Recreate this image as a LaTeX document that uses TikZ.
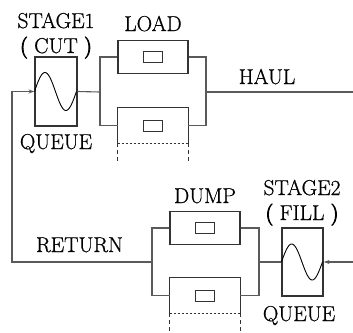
\documentclass[tikz,border=0pt]{standalone}
\usepackage{fontspec}
\newfontfamily\lblfont{Latin Modern Roman}[FakeBold=0.7]
\newfontfamily\parenfont{Latin Modern Roman}[FakeBold=4]
\usetikzlibrary{arrows.meta}
\definecolor{boxc}{HTML}{333333}
\definecolor{linec}{HTML}{5A5A5A}
\begin{document}
\begin{tikzpicture}[x=1pt,y=-1pt,
  lbl/.style={anchor=base,inner sep=0pt,font=\lblfont\fontsize{21.5}{24}\selectfont,text=black},
  stagebox/.style={draw=boxc,line width=1.1pt,minimum width=42pt,minimum height=69pt,inner sep=0pt},
  unitbox/.style={draw=boxc,line width=1.1pt,minimum width=70pt,minimum height=33pt,inner sep=0pt},
  openbox/.style={minimum width=70pt,minimum height=35pt,inner sep=0pt},
  innerbox/.style={draw=boxc,line width=1pt,minimum width=19pt,minimum height=11pt,inner sep=0pt},
  conn/.style={draw=linec,line width=1.1pt},
  wave/.style={draw=black,line width=0.9pt},
  densedash/.style={draw=boxc,line width=1.3pt,dash pattern=on 2.5pt off 1.5pt},
  sparsedash/.style={draw=boxc,line width=1pt,dash pattern=on 4pt off 3pt},
  arr/.style={conn,-{Stealth[length=6pt,width=4pt]}}]
\useasboundingbox (0,0) rectangle (353,332);

% stage boxes
\node[stagebox] (s1) at (56,91.5) {};
\node[stagebox,minimum width=41pt,minimum height=68pt] (s2) at (302.5,262) {};
\draw[wave,shift={(s1.west)}] plot[domain=0:1,samples=60,variable=\t] ({42*\t},{-19*sin(360*\t)});
\draw[wave,shift={(s2.west)}] plot[domain=0:1,samples=60,variable=\t] ({41*\t},{-18*sin(360*\t)});

% load boxes
\node[unitbox] (l1) at (153,57) {};
\node[innerbox] (l1i) at (l1.center) {};
\node[openbox] (l2) at (153,125.5) {};
\node[innerbox] (l2i) at (l2.center) {};
\draw[draw=boxc,line width=1.1pt] (l2.south west) -- (l2.north west) -- (l2.north east) -- (l2.south east);
\draw[densedash] (l2.south west) -- (l2.south east);
\coordinate (l2a) at ([yshift=-20pt]l2.south west);
\coordinate (l2b) at ([yshift=-20pt]l2.south east);
\draw[sparsedash] (l2.south west) -- (l2a);
\draw[sparsedash] (l2.south east) -- (l2b);

% dump boxes
\node[unitbox] (d1) at (205,228) {};
\node[innerbox] (d1i) at (d1.center) {};
\node[openbox] (d2) at (205,295.5) {};
\node[innerbox] (d2i) at (d2.center) {};
\draw[draw=boxc,line width=1.1pt] (d2.south west) -- (d2.north west) -- (d2.north east) -- (d2.south east);
\draw[densedash] (d2.south west) -- (d2.south east);
\coordinate (d2a) at ([yshift=-22pt]d2.south west);
\coordinate (d2b) at ([yshift=-22pt]d2.south east);
\draw[sparsedash] (d2.south west) -- (d2a);
\draw[sparsedash] (d2.south east) -- (d2b);

% junctions
\coordinate (jL) at (100,92);
\coordinate (jR) at (206,92);
\coordinate (haul) at (353,92);
\coordinate (jD) at (152,262);
\coordinate (jE) at (259,262);
\coordinate (inR) at (353,262);
\coordinate (rc) at (12,262);

% connectors
\draw[conn] (s1.east) -- (jL);
\draw[conn] (l1.west) -| (jL) |- (l2.west);
\draw[conn] (l1.east) -| (jR) |- (l2.east);
\draw[conn] (jR) -- (haul);
\draw[conn] (d1.west) -| (jD) |- (d2.west);
\draw[conn] (d1.east) -| (jE) |- (d2.east);
\draw[conn] (jE) -- (s2.west);
\draw[arr] (inR) -- (s2.east);
\draw[arr] (jD) -- (rc) |- (s1.west);

% labels
\node[lbl] (t1) at (56,28) {STAGE1};
\node[lbl] (t2) at (56,53) {{\parenfont(}\hspace{0.3em}CUT\hspace{0.3em}{\parenfont)}};
\node[lbl] (t3) at (56,149) {QUEUE};
\node[lbl] (t4) at (153,31) {LOAD};
\node[lbl] (t5) at (267,84) {HAUL};
\node[lbl] (t6) at (205,203) {DUMP};
\node[lbl] (t7) at (302,195) {STAGE2};
\node[lbl] (t8) at (302,220) {{\parenfont(}\hspace{0.3em}FILL\hspace{0.3em}{\parenfont)}};
\node[lbl] (t9) at (299,321) {QUEUE};
\node[lbl] (t10) at (79.5,252) {RETURN};
\end{tikzpicture}
\end{document}
